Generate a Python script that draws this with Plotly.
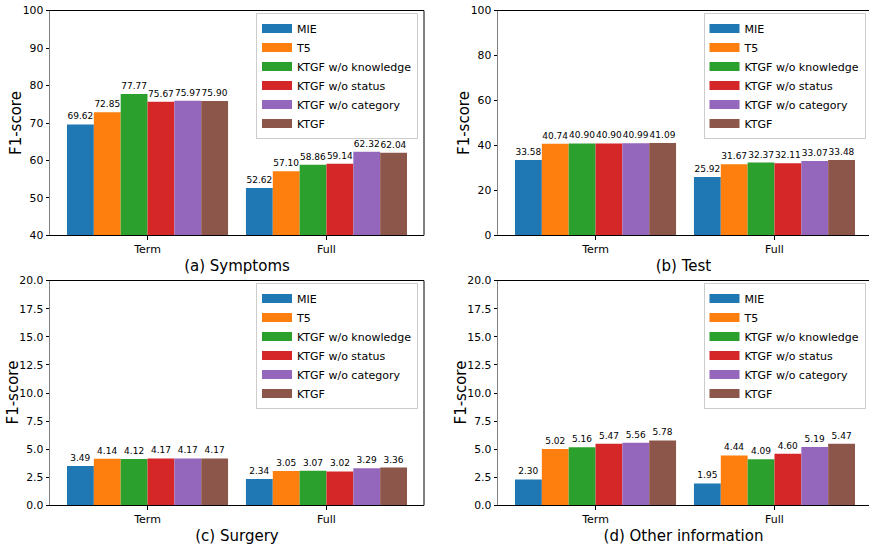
import plotly.graph_objects as go

categories = ["Term", "Full"]
models = ["MIE", "T5", "KTGF w/o knowledge", "KTGF w/o status", "KTGF w/o category", "KTGF"]
colors = ["#1f77b4", "#ff7f0e", "#2ca02c", "#d62728", "#9467bd", "#8c564b"]

symptoms_term = [69.62, 72.85, 77.77, 75.67, 75.97, 75.90]
symptoms_full = [52.62, 57.10, 58.86, 59.14, 62.32, 62.04]
test_term = [33.58, 40.74, 40.90, 40.90, 40.99, 41.09]
test_full = [25.92, 31.67, 32.37, 32.11, 33.07, 33.48]
surgery_term = [3.49, 4.14, 4.12, 4.17, 4.17, 4.17]
surgery_full = [2.34, 3.05, 3.07, 3.02, 3.29, 3.36]
other_term = [2.30, 5.02, 5.16, 5.47, 5.56, 5.78]
other_full = [1.95, 4.44, 4.09, 4.60, 5.19, 5.47]

panel_titles = ["(a) Symptoms", "(b) Test", "(c) Surgery", "(d) Other information"]
y_title = "F1-score"
panels = [
    (symptoms_term, symptoms_full),
    (test_term, test_full),
    (surgery_term, surgery_full),
    (other_term, other_full),
]

W, H = 869, 546
FONT = "DejaVu Sans"


def fx(px):
    return px / W


def fy(py):
    return 1 - py / H


fig = go.Figure()

for p, (term_vals, full_vals) in enumerate(panels):
    ax = "" if p == 0 else str(p + 1)
    leg = "legend" if p == 0 else f"legend{p + 1}"
    for i, m in enumerate(models):
        fig.add_trace(go.Bar(
            x=categories, y=[term_vals[i], full_vals[i]],
            marker=dict(color=colors[i], line=dict(width=0)),
            texttemplate="%{y:.2f}", textposition="outside",
            textfont=dict(size=9, color="#000000", family=FONT),
            constraintext="none", cliponaxis=False,
            showlegend=False, xaxis="x" + ax, yaxis="y" + ax,
        ))
    for i, m in enumerate(models):
        fig.add_trace(go.Scatter(
            x=[None], y=[None], mode="lines", name=m,
            line=dict(color=colors[i], width=9),
            legend=leg, legendgroup=f"{p}_{i}",
            xaxis="x" + ax, yaxis="y" + ax, hoverinfo="skip",
        ))

# domains (window pixels -> paper)
xl = [(fx(50), fx(424)), (fx(498), 1.0)]
yl = [(fy(235.3), fy(10.7)), (fy(505.3), fy(280.7))]
px_per_unit = 374 / 2.09
xr_left = [-0.545, 1.545]
xr_right = [-0.545, -0.545 + (W - 498) / px_per_unit]

yranges = [[40, 100], [0, 100], [0, 20], [0, 20]]
ydticks = [10, 20, 2.5, 2.5]
yfmt = ["d", "d", ".1f", ".1f"]
ytitle_x = [16, 464, 12.5, 460.5]

layout = dict(
    width=W, height=H,
    margin=dict(l=0, r=0, t=0, b=0, autoexpand=False),
    paper_bgcolor="white", plot_bgcolor="white",
    font=dict(family=FONT, color="#000000"),
    barmode="group", bargap=0.1, bargroupgap=0,
    showlegend=True,
)

shapes = []
annotations = []
for p in range(4):
    col = p % 2
    row = p // 2
    ax = "" if p == 0 else str(p + 1)
    layout["xaxis" + ax] = dict(
        domain=list(xl[col]), anchor="y" + ax,
        range=xr_left if col == 0 else xr_right,
        showline=True, linecolor="black", linewidth=1, mirror=True,
        ticks="outside", ticklen=3.5, tickwidth=1, tickcolor="black",
        tickfont=dict(size=11, family=FONT, color="#000000"),
        showgrid=False, zeroline=False, fixedrange=True, automargin=False,
        title=dict(text=panel_titles[p], font=dict(size=15, family=FONT, color="#000000"), standoff=5),
    )
    layout["yaxis" + ax] = dict(
        domain=list(yl[row]), anchor="x" + ax,
        range=yranges[p], dtick=ydticks[p], tick0=0, tickformat=yfmt[p],
        showline=True, linecolor="#808080", linewidth=1, mirror=False,
        ticks="outside", ticklen=3.5, tickwidth=1, tickcolor="black",
        tickfont=dict(size=10.8, family=FONT, color="#000000"),
        ticklabeloverflow="allow",
        showgrid=False, zeroline=False, fixedrange=True, automargin=False,
    )
    if col == 0:
        shapes.append(dict(type="line", xref="x" + ax + " domain", yref="y" + ax + " domain",
                           x0=1, x1=1, y0=0, y1=1, line=dict(color="black", width=1), layer="above"))
    annotations.append(dict(
        text=y_title, textangle=-90, showarrow=False,
        xref="paper", yref="y" + ax + " domain",
        x=fx(ytitle_x[p]), y=0.5, xanchor="center", yanchor="middle",
        font=dict(size=15, family=FONT, color="#000000"),
    ))

layout["shapes"] = shapes
layout["annotations"] = annotations

leg_pos = [(fx(418), fy(13)), (fx(865.5), fy(13)), (fx(418), fy(283)), (fx(865.5), fy(283))]
for p in range(4):
    name = "legend" if p == 0 else f"legend{p + 1}"
    layout[name] = dict(
        x=leg_pos[p][0], y=leg_pos[p][1], xanchor="right", yanchor="top",
        xref="paper", yref="paper",
        bgcolor="rgba(255,255,255,0.8)", bordercolor="#cccccc", borderwidth=1,
        font=dict(size=11, family=FONT, color="#000000"),
        tracegroupgap=0, itemclick=False, itemdoubleclick=False,
    )

fig.update_layout(**layout)
fig.write_html(
    "out.html",
    config={"displayModeBar": False},
    post_script="document.body.style.margin='0';document.body.style.overflow='hidden';",
)
